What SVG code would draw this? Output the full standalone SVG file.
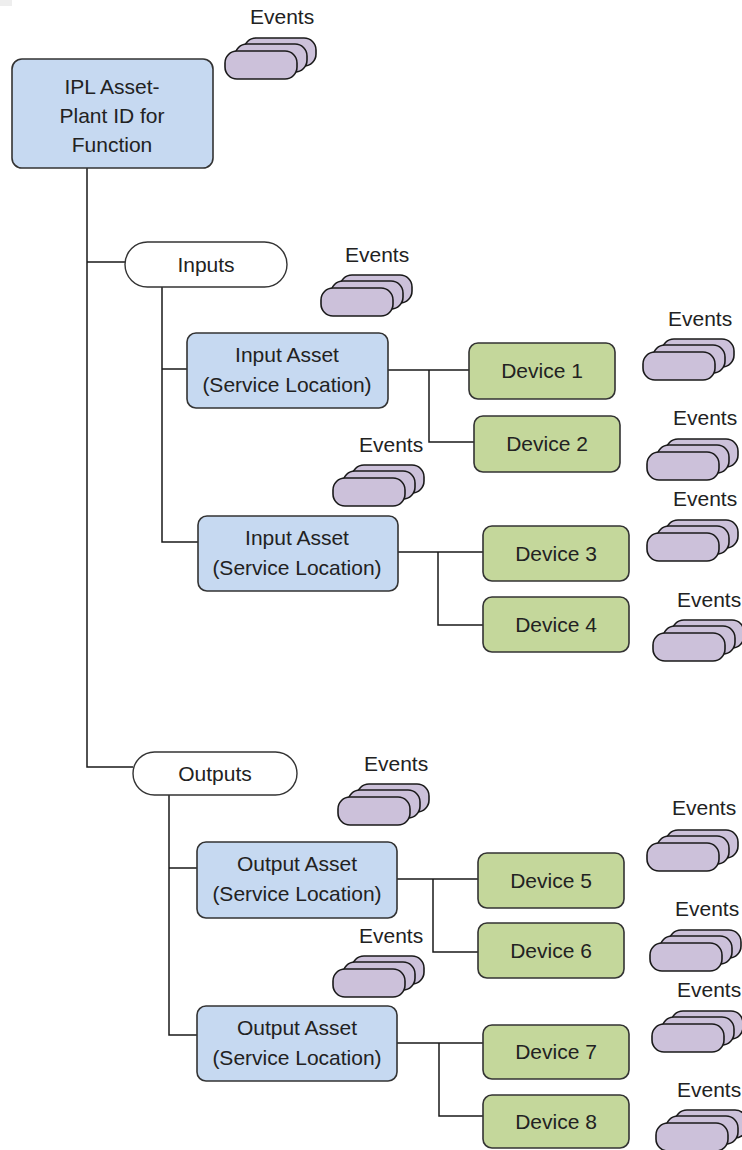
<svg xmlns="http://www.w3.org/2000/svg" xmlns:xlink="http://www.w3.org/1999/xlink" width="742" height="1150" viewBox="0 0 742 1150">
<style>
.t{font-family:"Liberation Sans",Arial,sans-serif;font-size:21px;fill:#222;text-anchor:middle}
.ev{font-family:"Liberation Sans",Arial,sans-serif;font-size:21px;fill:#222}
.blue{fill:#c6d9f1;stroke:#333;stroke-width:1.6}
.green{fill:#c4d79b;stroke:#333;stroke-width:1.6}
.pill{fill:#fff;stroke:#333;stroke-width:1.4}
.pur{fill:#ccc1da;stroke:#1a1a1a;stroke-width:1.6}
.ln{fill:none;stroke:#1a1a1a;stroke-width:1.5}
</style>
<defs>
<g id="stk">
<rect class="pur" x="19" y="-13" width="72" height="28" rx="12"/>
<rect class="pur" x="10" y="-7" width="72" height="28" rx="12"/>
<rect class="pur" x="0" y="0" width="72" height="28" rx="12"/>
</g>
</defs>
<rect x="0" y="0" width="12" height="6" fill="#eeeeee"/>
<g id="connectors">
<path class="ln" d="M87 168V767H133M87 262H125"/>
<path class="ln" d="M162 287V542H198M162 369H187"/>
<path class="ln" d="M388 370H469M429 370V442H474"/>
<path class="ln" d="M398 552H483M438 552V625H483"/>
<path class="ln" d="M169 795V1035H197M169 868H197"/>
<path class="ln" d="M397 879H478M433 879V952H478"/>
<path class="ln" d="M397 1043H483M439 1043V1116H483"/>
</g>
<g id="ipl"><rect class="blue" x="12" y="59" width="201" height="109" rx="10"/>
<text class="t" x="112" y="94">IPL Asset-</text><text class="t" x="112" y="123">Plant ID for</text><text class="t" x="112" y="152">Function</text></g>
<g id="inputs"><rect class="pill" x="125" y="242" width="162" height="45" rx="22.5"/><text class="t" x="206" y="272">Inputs</text></g>
<g id="outputs"><rect class="pill" x="133" y="752" width="164" height="43" rx="21.5"/><text class="t" x="215" y="781">Outputs</text></g>
<g id="inasset1"><rect class="blue" x="187" y="333" width="201" height="75" rx="9"/><text class="t" x="287" y="362">Input Asset</text><text class="t" x="287" y="392">(Service Location)</text></g>
<g id="inasset2"><rect class="blue" x="198" y="516" width="200" height="75" rx="9"/><text class="t" x="297" y="545">Input Asset</text><text class="t" x="297" y="575">(Service Location)</text></g>
<g id="outasset1"><rect class="blue" x="197" y="842" width="200" height="76" rx="9"/><text class="t" x="297" y="871">Output Asset</text><text class="t" x="297" y="901">(Service Location)</text></g>
<g id="outasset2"><rect class="blue" x="197" y="1006" width="200" height="75" rx="9"/><text class="t" x="297" y="1035">Output Asset</text><text class="t" x="297" y="1065">(Service Location)</text></g>
<g id="device1"><rect class="green" x="469" y="343" width="146" height="56" rx="9"/><text class="t" x="542" y="378">Device 1</text></g>
<g id="device2"><rect class="green" x="474" y="416" width="146" height="56" rx="9"/><text class="t" x="547" y="451">Device 2</text></g>
<g id="device3"><rect class="green" x="483" y="526" width="146" height="55" rx="9"/><text class="t" x="556" y="561">Device 3</text></g>
<g id="device4"><rect class="green" x="483" y="597" width="146" height="55" rx="9"/><text class="t" x="556" y="632">Device 4</text></g>
<g id="device5"><rect class="green" x="478" y="853" width="146" height="55" rx="9"/><text class="t" x="551" y="888">Device 5</text></g>
<g id="device6"><rect class="green" x="478" y="923" width="146" height="55" rx="9"/><text class="t" x="551" y="958">Device 6</text></g>
<g id="device7"><rect class="green" x="483" y="1025" width="146" height="54" rx="9"/><text class="t" x="556" y="1059">Device 7</text></g>
<g id="device8"><rect class="green" x="483" y="1095" width="146" height="53" rx="9"/><text class="t" x="556" y="1129">Device 8</text></g>
<g id="events0"><text class="ev" x="250" y="24">Events</text><use xlink:href="#stk" href="#stk" x="225" y="51"/></g>
<g id="events-inputs"><text class="ev" x="345" y="262">Events</text><use xlink:href="#stk" href="#stk" x="321" y="288"/></g>
<g id="events-d1"><text class="ev" x="668" y="326">Events</text><use xlink:href="#stk" href="#stk" x="643" y="352"/></g>
<g id="events-d2"><text class="ev" x="673" y="425">Events</text><use xlink:href="#stk" href="#stk" x="647" y="452"/></g>
<g id="events-ia2"><text class="ev" x="359" y="452">Events</text><use xlink:href="#stk" href="#stk" x="333" y="478"/></g>
<g id="events-d3"><text class="ev" x="673" y="506">Events</text><use xlink:href="#stk" href="#stk" x="647" y="533"/></g>
<g id="events-d4"><text class="ev" x="677" y="607">Events</text><use xlink:href="#stk" href="#stk" x="653" y="633"/></g>
<g id="events-outputs"><text class="ev" x="364" y="771">Events</text><use xlink:href="#stk" href="#stk" x="338" y="797"/></g>
<g id="events-d5"><text class="ev" x="672" y="815">Events</text><use xlink:href="#stk" href="#stk" x="647" y="843"/></g>
<g id="events-d6"><text class="ev" x="675" y="916">Events</text><use xlink:href="#stk" href="#stk" x="650" y="943"/></g>
<g id="events-oa2"><text class="ev" x="359" y="943">Events</text><use xlink:href="#stk" href="#stk" x="333" y="969"/></g>
<g id="events-d7"><text class="ev" x="677" y="997">Events</text><use xlink:href="#stk" href="#stk" x="652" y="1024"/></g>
<g id="events-d8"><text class="ev" x="677" y="1097">Events</text><use xlink:href="#stk" href="#stk" x="656" y="1123"/></g>
</svg>
